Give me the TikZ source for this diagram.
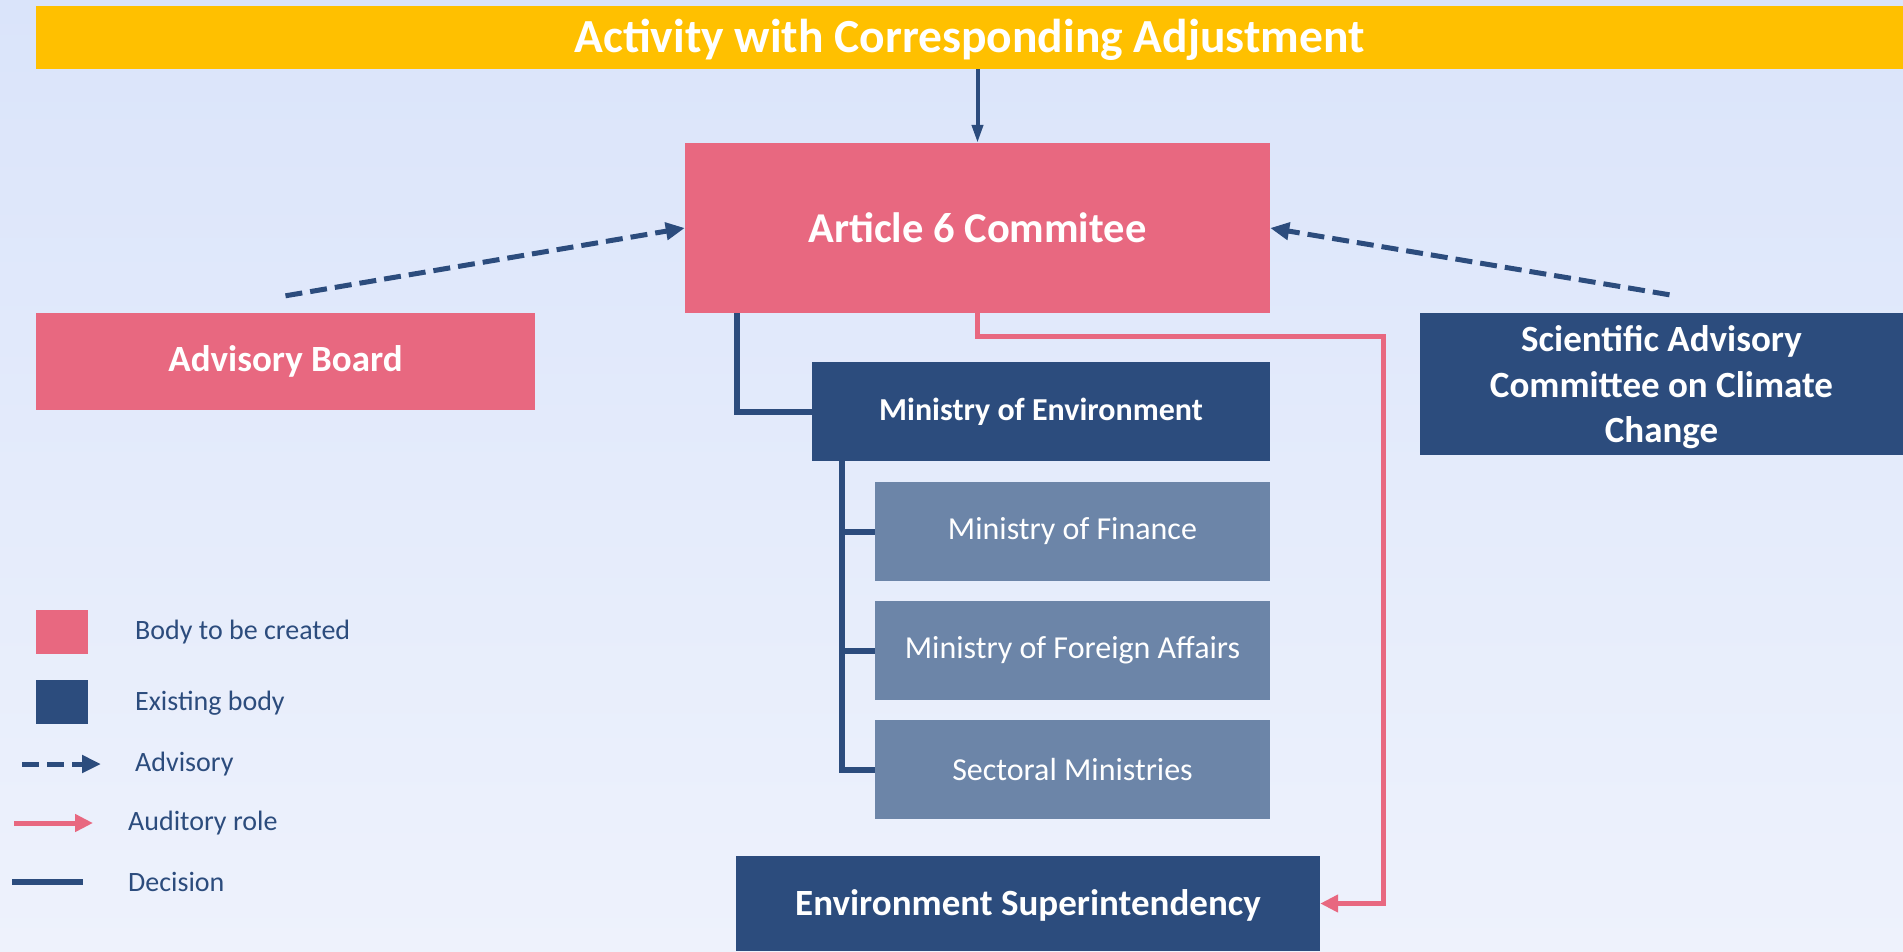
\documentclass[tikz,border=0pt]{standalone}
\usepackage{fontspec}
\setmainfont{Carlito}
\usetikzlibrary{arrows.meta}

\definecolor{pinkbox}{RGB}{232,104,128}
\definecolor{navy}{RGB}{44,76,125}
\definecolor{slate}{RGB}{108,133,168}
\definecolor{gold}{RGB}{255,192,0}
\definecolor{bgtop}{RGB}{218,228,250}
\definecolor{bgbot}{RGB}{238,242,252}

\newcommand{\fsz}[1]{\fontsize{#1}{1.22\dimexpr#1pt\relax}\selectfont}

\tikzset{
  body/.style={inner sep=0pt, text=white, align=center},
  created/.style={body, fill=pinkbox},
  existing/.style={body, fill=navy},
  member/.style={body, fill=slate},
  legendtext/.style={anchor=west, inner sep=0pt, text=navy, font=\fsz{28}},
  decision/.style={draw=navy, line width=6pt},
  auditory/.style={draw=pinkbox, line width=5pt, -{Triangle[width=17pt,length=18pt]}},
  advisory/.style={draw=navy, line width=5pt, dash pattern=on 17pt off 8pt, -{Triangle[width=17pt,length=19pt]}},
  feed/.style={draw=navy, line width=4pt, -{Triangle[width=11pt,length=18pt]}}
}

\begin{document}
\begin{tikzpicture}[x=1pt,y=-1pt]
    \useasboundingbox (0,0) rectangle (1903,951);
    \shade[top color=bgtop, bottom color=bgbot] (0,0) rectangle (1903,951);

    \node[body, fill=gold, minimum width=1867pt, minimum height=63pt, text depth=4pt, font=\bfseries\fsz{47.5}] (banner) at (969.5,37.5) {Activity with Corresponding Adjustment};
    \node[created, minimum width=585pt, minimum height=170pt, font=\bfseries\fsz{42.5}] (art6) at (977.5,228) {Article 6 Commitee};
    \node[created, minimum width=499pt, minimum height=97pt, font=\bfseries\fsz{37}] (board) at (285.5,361.5) {Advisory Board};
    \node[existing, minimum width=483pt, minimum height=142pt, text depth=0pt, font=\bfseries\fsz{37}] (scac) at (1661.5,384) {Scientific Advisory\\Committee on Climate\\Change};
    \node[existing, minimum width=458pt, minimum height=99pt, font=\bfseries\fsz{32}] (moe) at (1041,411.5) {Ministry of Environment};
    \node[member, minimum width=395pt, minimum height=99pt, font=\fsz{32}] (mof) at (1072.5,531.5) {Ministry of Finance};
    \node[member, minimum width=395pt, minimum height=99pt, font=\fsz{32}] (mofa) at (1072.5,650.5) {Ministry of Foreign Affairs};
    \node[member, minimum width=395pt, minimum height=99pt, font=\fsz{32}] (sect) at (1072.5,769.5) {Sectoral Ministries};
    \node[existing, minimum width=584pt, minimum height=95pt, text depth=2pt, font=\bfseries\fsz{37}] (envsup) at (1028,903.5) {Environment Superintendency};

    \draw[feed] (banner.south -| art6.north) -- (art6.north);
    \draw[decision] ([xshift=52pt]art6.south west) |- (moe.west);
    \draw[decision] ([xshift=30pt]moe.south west) |- (mof.west);
    \draw[decision] ([xshift=30pt]moe.south west) |- (mofa.west);
    \draw[decision] ([xshift=30pt]moe.south west) |- (sect.west);
    \coordinate (audturn) at (1383,336);
    \draw[auditory] (art6.south) |- (audturn) |- (envsup.east);
    \draw[advisory] ([yshift=17pt]board.north) -- (art6.west);
    \draw[advisory] ([xshift=8pt,yshift=18pt]scac.north) -- (art6.east);

    \node[fill=pinkbox, minimum width=52pt, minimum height=44pt, inner sep=0pt] (keynew) at (62,632) {};
    \node[fill=navy, minimum width=52pt, minimum height=44pt, inner sep=0pt] (keyold) at (62,702) {};
    \node[legendtext] (txtnew) at (135,632) {Body to be created};
    \node[legendtext] (txtold) at (135,703) {Existing body};
    \coordinate (advA) at (22,764);
    \coordinate (advB) at (101,764);
    \coordinate (audA) at (14,823);
    \coordinate (audB) at (93,823);
    \coordinate (decA) at (12,882);
    \coordinate (decB) at (83,882);
    \draw[advisory] (advA) -- (advB);
    \draw[auditory] (audA) -- (audB);
    \draw[decision] (decA) -- (decB);
    \node[legendtext] (txtadv) at (135,764) {Advisory};
    \node[legendtext] (txtaud) at (128,823) {Auditory role};
    \node[legendtext] (txtdec) at (128,882) {Decision};
\end{tikzpicture}
\end{document}
